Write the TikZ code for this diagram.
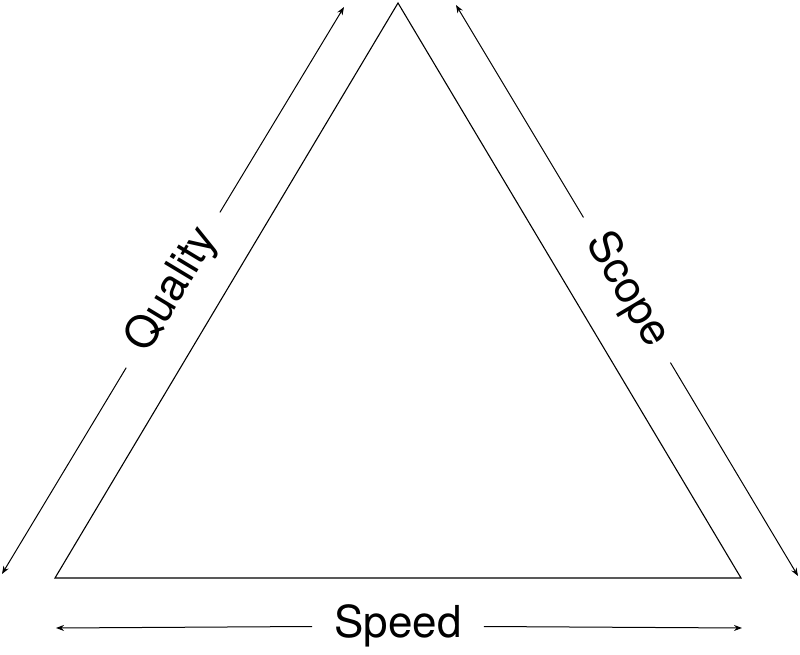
\documentclass[tikz,border=0pt]{standalone}
\usepackage{fontspec}
\setmainfont{TeX Gyre Heros}
\usetikzlibrary{arrows.meta}
\begin{document}
\begin{tikzpicture}[x=1pt,y=1pt,
  edge/.style={line width=1.1pt},
  arr/.style={line width=1pt,-{Stealth[length=8pt,width=6pt]}},
  lbl/.style={font=\fontsize{44}{48}\selectfont, inner xsep=22pt, inner ysep=0pt, anchor=center}]
\useasboundingbox (0,0) rectangle (800,654);
% triangle
\coordinate (A) at (398,651);
\coordinate (B) at (55,76);
\coordinate (C) at (741,76);
\draw[edge, line join=miter] (A) -- (B) -- (C) -- cycle;
% arrow ends
\coordinate (qt) at (344,647);
\coordinate (qb) at (2,80);
\coordinate (st) at (456,649);
\coordinate (sb) at (798,78);
\coordinate (pl) at (56,26);
\coordinate (pr) at (742,26);
% labels
\node[lbl, rotate=58.9] (quality) at (173,364) {Quality};
\node[lbl, rotate=-59.2] (scope) at (627,364) {Scope};
\node[lbl] (speed) at (398,28) {Speed};
% arrows
\draw[arr] (quality) -- (qt);
\draw[arr] (quality) -- (qb);
\draw[arr] (scope) -- (st);
\draw[arr] (scope) -- (sb);
\draw[arr] (speed) -- (pl);
\draw[arr] (speed) -- (pr);
\end{tikzpicture}
\end{document}
